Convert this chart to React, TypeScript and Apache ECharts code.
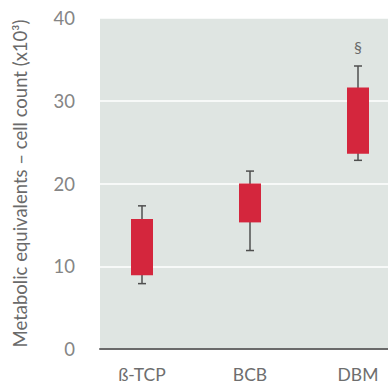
import React, { useEffect, useRef } from "react";
import * as echarts from "echarts";

const categories = ["ß-TCP", "BCB", "DBM"];
const whiskerLow = [7.9, 11.9, 22.8];
const boxLow = [8.9, 15.3, 23.6];
const boxHigh = [15.7, 20.0, 31.6];
const whiskerHigh = [17.3, 21.5, 34.2];
const marks = ["", "", "§"];
const yTicks = { min: 0, max: 40, interval: 10 };

export default function App() {
  const ref = useRef<HTMLDivElement>(null);
  useEffect(() => {
    if (!ref.current) return;
    const chart = echarts.init(ref.current, null, { renderer: "svg" });
    const font = "Lato";
    chart.setOption({
      animation: false,
      backgroundColor: "#ffffff",
      grid: [
        { left: 100, right: 0, top: 18, bottom: 37, show: true, backgroundColor: "#dfe5e2", borderWidth: 0 },
        { left: 142, right: 30, top: 18, bottom: 37 },
      ],
      xAxis: [
        {
          gridIndex: 0,
          type: "category",
          data: [""],
          axisLine: { show: true, lineStyle: { color: "#6a6a6a", width: 2 } },
          axisTick: { show: false },
          axisLabel: { show: false },
          splitLine: { show: false },
        },
        {
          gridIndex: 1,
          type: "category",
          data: categories,
          boundaryGap: false,
          axisLine: { show: false },
          axisTick: { show: false },
          axisLabel: { margin: 16, fontFamily: font, fontSize: 17.5, color: "#6e6e6e" },
          splitLine: { show: false },
        },
      ],
      yAxis: [
        {
          gridIndex: 0,
          type: "value",
          min: yTicks.min,
          max: yTicks.max,
          interval: yTicks.interval,
          axisLine: { show: false },
          axisTick: { show: false },
          axisLabel: { margin: 25, fontFamily: font, fontSize: 18.5, color: "#858585" },
          splitLine: { show: true, lineStyle: { color: "#ffffff", width: 1.5 } },
          name: "Metabolic equivalents – cell count (x10³)",
          nameLocation: "middle",
          nameRotate: 90,
          nameGap: 71,
          nameTextStyle: { fontFamily: font, fontSize: 18.5, color: "#6a6a6a" },
        },
        {
          gridIndex: 1,
          type: "value",
          min: yTicks.min,
          max: yTicks.max,
          interval: yTicks.interval,
          show: false,
        },
      ],
      series: [
        {
          type: "custom",
          xAxisIndex: 1,
          yAxisIndex: 1,
          encode: { x: 0, y: [1, 2, 3, 4] },
          data: categories.map((c, i) => [i, whiskerLow[i], boxLow[i], boxHigh[i], whiskerHigh[i]]),
          renderItem: (params: any, api: any) => {
            const i = api.value(0);
            const pLo = api.coord([i, api.value(1)]);
            const pQ1 = api.coord([i, api.value(2)]);
            const pQ3 = api.coord([i, api.value(3)]);
            const pHi = api.coord([i, api.value(4)]);
            const w = 22;
            const cap = 4;
            const stroke = { stroke: "#4f4f4f", lineWidth: 1.5 };
            const children: any[] = [
              { type: "line", shape: { x1: pHi[0], y1: pHi[1], x2: pLo[0], y2: pLo[1] }, style: stroke },
              { type: "line", shape: { x1: pHi[0] - cap, y1: pHi[1], x2: pHi[0] + cap, y2: pHi[1] }, style: stroke },
              { type: "line", shape: { x1: pLo[0] - cap, y1: pLo[1], x2: pLo[0] + cap, y2: pLo[1] }, style: stroke },
              {
                type: "rect",
                shape: { x: pQ3[0] - w / 2, y: pQ3[1], width: w, height: pQ1[1] - pQ3[1] },
                style: { fill: "#d4263d" },
              },
            ];
            const m = marks[params.dataIndex];
            if (m) {
              children.push({
                type: "text",
                style: {
                  text: m,
                  x: pHi[0],
                  y: pHi[1] - 19,
                  align: "center",
                  verticalAlign: "middle",
                  fill: "#6a6a6a",
                  fontSize: 16,
                  fontFamily: font,
                },
              });
            }
            return { type: "group", children };
          },
        },
      ],
    });
    return () => chart.dispose();
  }, []);
  return <div ref={ref} style={{ position: "fixed", left: 0, top: 0, width: 388, height: 386 }} />;
}
